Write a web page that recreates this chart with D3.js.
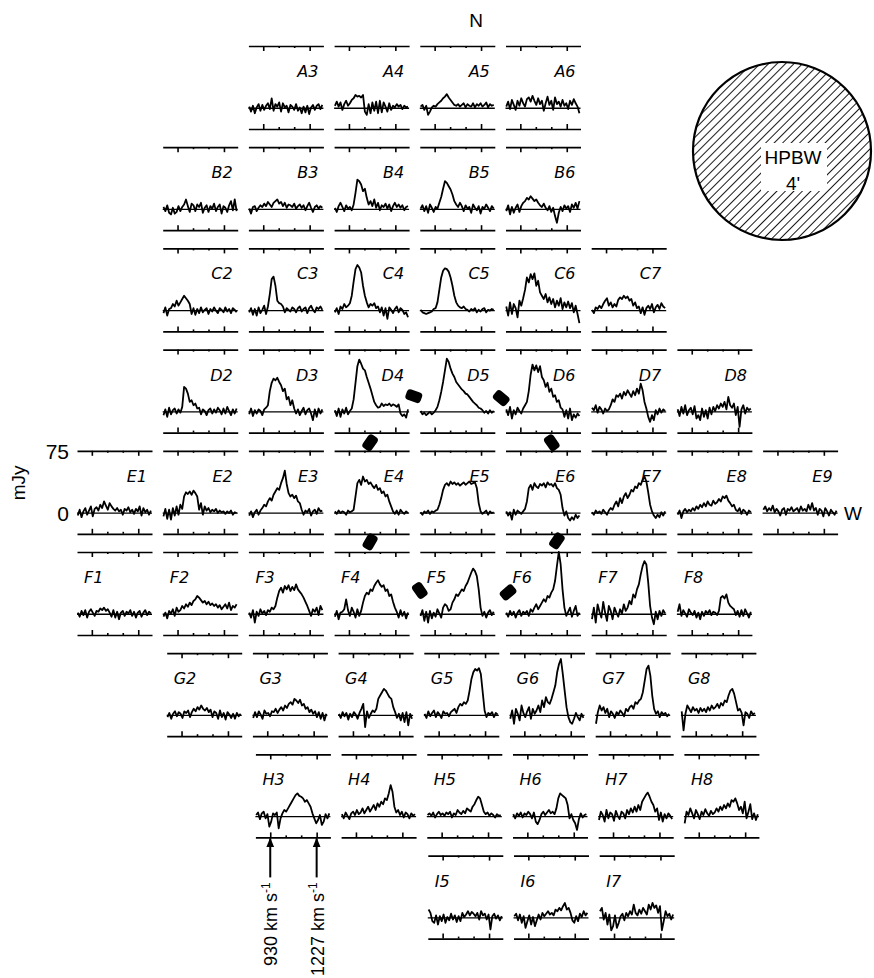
<!DOCTYPE html>
<html>
<head>
<meta charset="utf-8">
<script src="https://cdn.jsdelivr.net/npm/d3@7"></script>
<style>
  body { margin: 0; background: #fff; }
  svg { display: block; }
</style>
</head>
<body>
<div id="chart"></div>
<script>
// velocity channels (km/s) shared by every spectrum
var channels = [840,852,864,876,888,900,912,924,936,948,960,972,984,996,1008,1020,1032,1044,1056,1068,
                1080,1092,1104,1116,1128,1140,1152,1164,1176,1188,1200,1212,1224,1236,1248,1260,1272,1284,1296,1308];
var majorTicks = [930, 1227];
var minorTicks = [1029, 1128];
var topLevel = 75, bottomLevel = -25;

// flux density in mJy, one array per pointing
var A3 = [2,-4,3,-6,1,5,-3,4,-2,3, 6,-1,12,-3,5,2,7,-4,6,1, 3,-5,4,2,-2,5,-3,1,-6,2, -5,3,-7,1,4,-2,3,5,-1,4];
var A4 = [3,8,2,7,-2,5,9,3,6,10, 12,16,14,15,13,16,-4,-8,5,-6, 7,-3,8,-6,9,-5,7,2,-4,6, -2,3,1,5,2,4,-1,3,1,2];
var A5 = [2,4,-2,3,-8,-4,1,3,2,5, 7,9,12,14,17,13,10,7,4,3, 5,2,4,6,1,5,3,2,6,1, 5,3,6,2,4,7,1,5,3,4];
var A6 = [2,8,-1,10,4,-2,9,3,12,6, 2,11,13,8,15,9,4,12,5,9, -3,6,14,4,9,-2,13,5,8,2, 10,3,6,-1,9,4,11,6,2,-6];
var B2 = [3,-2,5,-4,-6,2,-5,-3,4,-2, 3,6,12,4,-3,7,5,-2,6,3, 8,-4,2,5,-3,4,1,7,-2,3, 6,-5,4,2,-3,5,10,-1,12,-2];
var B3 = [1,-5,3,4,-2,2,5,3,7,4, 9,6,3,8,10,12,7,9,4,8, 2,6,5,3,7,1,4,6,2,5, -1,4,8,2,-3,3,5,1,4,2];
var B4 = [2,-3,4,8,3,-2,5,1,3,-1, 6,20,36,34,30,22,25,14,6,10, 4,12,2,8,-1,5,3,7,1,6, -2,4,8,3,6,2,5,-1,3,4];
var B5 = [1,5,-2,4,-4,6,2,-3,3,1, 8,15,25,34,32,28,24,18,10,6, 3,8,4,-2,5,1,3,-4,6,2, -1,4,-5,3,1,6,2,-2,4,1];
var B6 = [-2,5,-6,3,-4,2,6,-3,4,8, 10,14,12,16,13,10,12,8,5,3, 7,2,-1,4,-3,2,-8,-16,-4,3, -2,5,1,4,-3,6,2,8,1,10];
var C2 = [-3,4,-6,2,3,8,5,12,6,10, 14,18,15,12,8,-4,3,-5,2,-3, 4,-2,1,3,-4,2,-1,4,0,-3, 3,1,-2,4,-1,2,-3,3,1,-2];
var C3 = [-2,3,-5,2,-6,4,-3,1,6,-4, 5,20,38,41,30,12,9,8,5,-2, 3,1,-1,4,2,-2,3,5,-1,2, 4,-3,3,6,1,-2,4,2,5,1];
var C4 = [-2,3,-4,5,2,8,4,6,9,18, 35,50,55,52,46,30,18,10,4,8, 6,9,3,5,-2,4,-6,3,-10,4, 1,-3,2,5,-2,3,1,-4,-2,-8];
var C5 = [1,-2,-3,-4,-3,-2,-1,2,3,10, 25,40,48,51,50,47,40,30,18,10, 6,4,3,5,2,1,-1,2,0,3, -2,1,-1,2,3,-2,1,0,2,1];
var C6 = [5,-6,10,-4,8,3,-8,12,6,15, 25,40,34,44,38,45,30,36,22,18, 14,20,10,16,8,14,4,12,6,15, 2,10,4,11,3,9,-2,6,-4,-15];
var C7 = [1,-3,4,2,6,3,8,12,15,6, 10,4,8,5,13,16,14,18,15,17, 12,14,6,10,3,5,-3,4,-5,3, 6,2,8,-2,4,7,2,9,5,3];
var D2 = [-4,3,-6,5,-3,2,4,-2,3,-1, 6,30,28,22,12,14,8,10,4,5, -3,3,1,-4,2,4,-2,3,-1,5, 2,-3,4,-2,6,1,-4,3,-2,4];
var D3 = [-3,4,-5,2,-2,3,1,-4,3,5, 8,25,35,40,38,41,36,32,25,28, 15,18,8,14,4,-2,3,-4,1,5, -3,2,4,-2,-10,3,-6,4,-2,3];
var D4 = [2,-5,4,-6,3,-2,5,-3,1,4, 15,35,55,63,58,52,50,42,35,28, 20,12,8,5,6,10,7,9,8,10, 7,9,8,6,9,-2,-5,-3,-7,3];
var D5 = [1,-3,-1,-4,-2,0,-3,-1,2,6, 14,24,36,50,64,60,52,46,42,36, 33,30,27,25,22,21,18,15,12,10, 8,5,4,2,-1,1,-2,2,-1,1];
var D6 = [3,-4,6,-8,2,-3,5,1,-2,4, 8,12,25,45,57,50,56,48,55,42, 38,30,35,24,28,18,20,12,14,5, 3,-6,2,-8,4,-10,-3,-7,-2,-5];
var D7 = [5,2,8,-1,6,3,-2,4,1,3, 8,15,12,20,18,22,16,24,20,26, 22,18,25,20,28,22,34,26,12,4, -6,-12,-4,-10,2,-3,4,-1,3,1];
var D8 = [3,-5,6,-2,8,-4,2,5,-3,7, -8,-4,-10,4,-6,2,-8,5,-3,6, 1,8,4,10,6,12,3,18,8,5, 10,-4,6,-18,3,8,-2,5,2,4];
var E1 = [-3,4,-5,2,6,-2,3,8,-4,5, 7,3,10,6,14,9,4,12,8,5, 3,6,2,4,-2,5,3,7,1,4, -1,5,2,8,-3,6,1,4,-2,3];
var E2 = [-4,5,-7,4,-8,6,-3,8,-2,10, 5,20,25,23,26,22,27,24,20,4, 12,-2,8,3,6,1,4,2,5,0, 3,1,2,-1,2,0,3,-2,1,0];
var E3 = [-3,2,-5,1,4,-2,3,6,10,8, 14,18,15,22,26,30,28,36,42,51, 35,24,20,22,18,21,14,12,4,-2, 3,1,5,-3,2,4,-1,6,2,3];
var E4 = [2,-1,3,0,2,1,-2,3,1,2, 4,20,36,40,34,44,38,40,35,37, 33,30,34,28,30,24,26,20,22,14, 8,2,-1,3,-2,4,1,-1,2,0];
var E5 = [1,-2,2,0,3,-1,2,1,3,4, 10,18,28,34,36,33,38,35,37,34, 36,33,35,37,34,36,38,35,36,37, 30,12,2,-1,1,3,-2,2,0,1];
var E6 = [2,-3,1,-8,4,-2,3,1,-1,2, 5,14,30,34,28,36,32,30,35,33, 36,31,37,34,35,32,36,30,28,22, 6,-3,2,-6,-9,-5,-8,-2,-6,-3];
var E7 = [1,-2,3,0,2,-1,4,1,-2,3, 6,4,10,14,8,18,12,20,24,18, 22,28,26,32,30,36,34,40,44,38, 25,10,2,-3,-6,-2,-5,1,-3,2];
var E8 = [-2,3,-6,2,5,1,4,2,6,3, 8,5,10,7,12,8,14,10,9,15, 11,13,17,14,20,18,21,15,12,8, 10,4,2,6,-1,4,2,-2,3,1];
var E9 = [4,8,2,6,3,9,1,5,2,-3, 4,6,-2,5,3,7,2,4,6,1, 8,3,5,2,10,4,12,3,6,-2, 5,3,-4,6,2,-3,4,1,-2,3];
var F1 = [2,-3,4,-1,5,-4,3,6,2,-2, 4,3,7,5,8,4,6,2,-3,5, -4,3,-6,2,4,-2,3,1,5,-2, 3,-4,2,4,-3,2,5,-1,3,1];
var F2 = [-3,2,-5,4,1,6,-2,8,3,5, 10,7,12,9,14,11,16,18,22,20, 17,14,16,12,15,11,13,10,12,8, 11,6,9,12,7,14,5,10,8,12];
var F3 = [2,-4,5,-10,3,-2,6,1,4,-1, 5,3,8,6,10,20,28,32,26,34, 30,35,28,33,29,36,30,27,24,20, 15,10,4,-2,6,3,8,-1,10,5];
var F4 = [-3,4,-6,2,3,6,18,5,-2,8, 3,-4,6,-2,4,14,22,26,24,30, 28,34,38,41,36,33,35,28,30,22, 24,15,8,3,-4,5,-2,3,-5,2];
var F5 = [-2,5,-8,3,-10,4,-5,2,-3,6, 1,-4,8,12,10,4,6,14,18,24, 22,26,30,28,34,38,44,50,55,52, 46,30,8,-2,3,-4,2,5,-1,3];
var F6 = [2,-3,4,-1,3,-4,2,5,-2,3, 1,4,-2,6,3,8,12,6,10,14, 18,15,22,20,26,30,40,58,75,60, 30,8,-2,3,8,-3,4,10,-2,2];
var F7 = [-6,8,-10,12,3,-4,15,2,-8,10, 4,-6,8,2,-3,6,1,12,4,8, 16,12,24,20,30,36,48,58,64,60, 38,10,-4,-12,3,-6,4,-2,5,1];
var F8 = [3,12,-2,5,1,-3,6,2,-1,4, -4,2,-6,3,-2,4,1,5,-1,3, 2,-1,4,20,22,19,24,14,10,8, 6,-1,4,-3,5,-2,6,1,-4,3];
var G2 = [-2,3,-4,2,5,-1,4,2,-3,5, 3,6,-2,4,8,5,10,7,12,8, 6,9,4,7,-2,5,3,-4,6,-2, 3,-5,4,1,-3,2,-4,3,-1,2];
var G3 = [-3,4,-2,5,1,-4,6,2,3,-1, 5,4,8,3,7,10,6,12,9,14, 16,13,20,18,15,19,12,14,8,10, 4,7,2,5,-2,4,-4,3,-6,2];
var G4 = [2,-3,4,-1,3,-5,2,-2,4,1, -4,3,8,14,-14,5,-3,2,6,4, 8,20,24,28,32,30,26,22,20,10, 4,-3,2,-6,3,-8,4,-12,2,-4];
var G5 = [2,-3,5,-1,3,6,-2,4,1,-3, 5,2,3,-1,4,6,8,3,10,14, 12,16,14,18,30,44,52,56,54,57, 50,28,6,-2,3,1,4,-2,3,1];
var G6 = [-4,6,-10,8,2,-6,12,3,-2,5, 10,-4,8,2,6,12,4,18,10,22, 16,14,20,28,36,52,62,68,50,30, 10,-2,-8,-10,-4,3,-2,-6,2,-3];
var G7 = [-10,4,12,6,10,3,8,-2,5,2, -3,4,1,6,3,-1,8,5,10,12, 8,16,14,18,20,28,42,56,60,48, 24,8,2,5,-2,4,1,3,-1,2];
var G8 = [5,-18,2,12,8,4,10,6,8,3, 9,5,8,4,10,6,12,8,10,14, 9,15,12,18,16,24,30,32,26,16, 6,8,3,-12,4,2,-3,5,1,3];
var H3 = [2,5,-3,4,6,-2,3,-12,-6,4, 2,5,-14,-2,4,8,6,10,14,18, 22,26,28,25,24,22,18,20,16,12, 4,-2,-8,-4,2,-10,-6,3,-2,4];
var H4 = [3,-2,5,1,-3,4,6,2,8,3, 5,10,4,8,12,6,10,14,8,16, 12,18,15,22,20,28,38,30,12,5, 8,2,6,-1,5,3,-2,4,1,3];
var H5 = [2,4,1,5,-1,3,6,2,4,1, 5,3,6,-1,4,2,8,5,3,7, 4,10,8,6,12,15,20,24,22,14, 6,3,5,1,4,2,-1,3,1,2];
var H6 = [3,-2,4,1,5,-1,4,2,6,3, -2,5,-6,-9,-4,3,6,2,5,8, 4,6,3,10,22,28,26,24,22,14, -2,3,-4,-8,-16,-3,4,-1,2,3];
var H7 = [-4,6,2,-6,8,-2,5,3,-5,7, 1,-3,6,4,-2,8,3,10,5,12, 6,14,8,18,22,26,29,24,18,14, 6,10,-4,5,-6,3,-2,4,1,-3];
var H8 = [-8,6,2,10,4,-2,8,3,-3,6, 2,9,4,1,7,3,5,10,6,12, 8,14,10,16,12,20,18,22,16,8, 12,4,18,-2,6,15,-3,4,-4,3];
var I5 = [10,6,-4,-6,3,-8,2,-4,4,-6, 1,-3,5,-2,3,-5,2,-4,6,1, 4,8,3,7,5,2,6,-2,8,3, 5,-2,4,-14,2,5,-1,3,-3,2];
var I6 = [2,5,-3,4,-6,2,-12,-4,3,-8, 1,-10,-3,4,-2,6,2,5,8,4, 6,3,10,8,12,9,14,18,10,12, 6,-3,-6,2,-4,5,1,8,3,6];
var I7 = [8,12,-2,6,-8,4,-15,-10,3,-12, -6,2,5,-3,6,2,8,4,16,6, 3,10,5,12,8,4,16,10,18,12, 15,6,14,-15,-4,8,2,5,-2,4];

var spectra = [
  ["A3", A3], ["A4", A4], ["A5", A5], ["A6", A6],
  ["B2", B2], ["B3", B3], ["B4", B4], ["B5", B5], ["B6", B6],
  ["C2", C2], ["C3", C3], ["C4", C4], ["C5", C5], ["C6", C6], ["C7", C7],
  ["D2", D2], ["D3", D3], ["D4", D4], ["D5", D5], ["D6", D6], ["D7", D7], ["D8", D8],
  ["E1", E1], ["E2", E2], ["E3", E3], ["E4", E4], ["E5", E5], ["E6", E6], ["E7", E7], ["E8", E8], ["E9", E9],
  ["F1", F1], ["F2", F2], ["F3", F3], ["F4", F4], ["F5", F5], ["F6", F6], ["F7", F7], ["F8", F8],
  ["G2", G2], ["G3", G3], ["G4", G4], ["G5", G5], ["G6", G6], ["G7", G7], ["G8", G8],
  ["H3", H3], ["H4", H4], ["H5", H5], ["H6", H6], ["H7", H7], ["H8", H8],
  ["I5", I5], ["I6", I6], ["I7", I7]
];

// black markers, given in grid units (column, row) with their tilt
var markers = [
  { col: 4.93, row: 3.46, angle: 20 },
  { col: 5.95, row: 3.48, angle: 40 },
  { col: 4.42, row: 3.92, angle: -55 },
  { col: 6.54, row: 3.92, angle: 55 },
  { col: 4.42, row: 4.90, angle: -60 },
  { col: 6.60, row: 4.89, angle: -55 },
  { col: 5.00, row: 5.38, angle: 55 },
  { col: 6.03, row: 5.40, angle: -40 }
];

var rowLetters = "ABCDEFGHI";
var width = 874, height = 978;
var panelW = 75, panelH = 83;
var rowShift = [0, 0, 0, 0, 0, 0, 4, 7, 8];

var colX = d3.scaleLinear().domain([1, 9]).range([77, 77 + 8 * 85.7]);
var rowY = d3.scaleLinear().domain([0, 8]).range([46, 46 + 8 * 101.2]);

var x = d3.scaleLinear().domain([835, 1315]).range([0, panelW]);
var y = d3.scaleLinear().domain([bottomLevel, topLevel]).range([panelH, 0]);

var svg = d3.select('#chart')
  .append('svg')
  .attr('width', width)
  .attr('height', height)
  .style('font-family', '"Liberation Sans", Arial, sans-serif');

var line = d3.line()
  .x(function(d, i) { return x(channels[i]); })
  .y(function(d) { return y(d); });

var panel = svg.selectAll('g.panel')
  .data(spectra)
  .enter()
  .append('g')
  .attr('class', 'panel')
  .attr('transform', function(d) {
    var r = rowLetters.indexOf(d[0][0]);
    var c = +d[0].slice(1);
    return 'translate(' + (colX(c) + rowShift[r]) + ',' + rowY(r) + ')';
  });

// 75 mJy line with ticks hanging down, lower line with ticks pointing up
var topAxis = d3.axisBottom(x).tickValues(majorTicks).tickSize(5).tickSizeOuter(0).tickFormat('');
var topMinor = d3.axisBottom(x).tickValues(minorTicks).tickSize(2).tickSizeOuter(0).tickFormat('');
var botAxis = d3.axisTop(x).tickValues(majorTicks).tickSize(5).tickSizeOuter(0).tickFormat('');
var botMinor = d3.axisTop(x).tickValues(minorTicks).tickSize(2).tickSizeOuter(0).tickFormat('');

function styleAxis(g) {
  g.selectAll('path').attr('stroke', '#000').attr('stroke-width', 1.7);
  g.selectAll('line').attr('stroke', '#000').attr('stroke-width', 1.6);
}

panel.append('g').attr('transform', 'translate(0,' + y(topLevel) + ')').call(topAxis).call(styleAxis);
panel.append('g').attr('transform', 'translate(0,' + y(topLevel) + ')').call(topMinor).call(styleAxis)
  .select('path').remove();
panel.append('g').attr('transform', 'translate(0,' + y(bottomLevel) + ')').call(botAxis).call(styleAxis);
panel.append('g').attr('transform', 'translate(0,' + y(bottomLevel) + ')').call(botMinor).call(styleAxis)
  .select('path').remove();

// zero line
panel.append('line')
  .attr('x1', 0).attr('x2', panelW)
  .attr('y1', y(0)).attr('y2', y(0))
  .attr('stroke', '#000').attr('stroke-width', 1.3);

panel.append('path')
  .attr('d', function(d) { return line(d[1]); })
  .attr('fill', 'none')
  .attr('stroke', '#000')
  .attr('stroke-width', 1.8)
  .attr('stroke-linejoin', 'round');

panel.append('text')
  .attr('x', function(d) { return rowLetters.indexOf(d[0][0]) < 5 ? 70 : 7; })
  .attr('y', 31)
  .attr('text-anchor', function(d) { return rowLetters.indexOf(d[0][0]) < 5 ? 'end' : 'start'; })
  .style('font-family', '"DejaVu Sans", sans-serif')
  .style('font-style', 'italic')
  .style('font-size', '16px')
  .text(function(d) { return d[0]; });

// markers between pointings
svg.selectAll('rect.marker')
  .data(markers)
  .enter()
  .append('rect')
  .attr('class', 'marker')
  .attr('x', -8).attr('y', -5.5)
  .attr('width', 16).attr('height', 11)
  .attr('rx', 3.5)
  .attr('fill', '#000')
  .attr('transform', function(d) {
    return 'translate(' + colX(d.col) + ',' + rowY(d.row) + ') rotate(' + d.angle + ')';
  });

// axis annotations on E1
var e1x = colX(1), e1y = rowY(4);
svg.append('text').attr('x', e1x - 8).attr('y', e1y + y(topLevel) + 8)
  .attr('text-anchor', 'end').style('font-size', '21px').text(topLevel);
svg.append('text').attr('x', e1x - 8).attr('y', e1y + y(0) + 8)
  .attr('text-anchor', 'end').style('font-size', '21px').text('0');
svg.append('text')
  .attr('transform', 'translate(25,' + (e1y + 32) + ') rotate(-90)')
  .attr('text-anchor', 'middle').style('font-size', '19px').text('mJy');

svg.append('text').attr('x', 476).attr('y', 27).attr('text-anchor', 'middle')
  .style('font-size', '19px').text('N');
svg.append('text').attr('x', 853).attr('y', 520).attr('text-anchor', 'middle')
  .style('font-size', '19px').text('W');

// velocity arrows under H3
var h3x = colX(3) + rowShift[7], h3y = rowY(7) + y(bottomLevel);
var defs = svg.append('defs');
defs.append('marker')
  .attr('id', 'head').attr('viewBox', '0 0 10 10')
  .attr('refX', 9).attr('refY', 5)
  .attr('markerWidth', 5).attr('markerHeight', 5)
  .attr('markerUnits', 'strokeWidth')
  .attr('orient', 'auto')
  .append('path').attr('d', 'M0,1 L10,5 L0,9 Z').attr('fill', '#000');

majorTicks.forEach(function(v) {
  var ax = h3x + x(v);
  svg.append('line')
    .attr('x1', ax).attr('x2', ax)
    .attr('y1', h3y + 40).attr('y2', h3y + 1)
    .attr('stroke', '#000').attr('stroke-width', 2)
    .attr('marker-end', 'url(#head)');
  var t = svg.append('text')
    .attr('transform', 'translate(' + (ax + 7) + ',' + (h3y + 45) + ') rotate(-90)')
    .attr('text-anchor', 'end')
    .style('font-size', '18px');
  t.append('tspan').text(v + ' km s');
  t.append('tspan').attr('dy', -7).style('font-size', '12px').text('-1');
});

// beam circle
var cx = 782, cy = 151, cr = 89;
defs.append('pattern')
  .attr('id', 'hatch')
  .attr('patternUnits', 'userSpaceOnUse')
  .attr('width', 6).attr('height', 6)
  .attr('patternTransform', 'rotate(45)')
  .append('line')
  .attr('x1', 0).attr('y1', 0).attr('x2', 0).attr('y2', 6)
  .attr('stroke', '#000').attr('stroke-width', 1.8);

svg.append('circle')
  .attr('cx', cx).attr('cy', cy).attr('r', cr)
  .attr('fill', 'url(#hatch)')
  .attr('stroke', '#000').attr('stroke-width', 2.2);
svg.append('rect')
  .attr('x', cx - 21).attr('y', cy - 8)
  .attr('width', 66).attr('height', 48)
  .attr('fill', '#fff');
svg.append('text').attr('x', cx + 11).attr('y', cy + 13)
  .attr('text-anchor', 'middle').style('font-size', '19px').text('HPBW');
svg.append('text').attr('x', cx + 11).attr('y', cy + 39)
  .attr('text-anchor', 'middle').style('font-size', '19px').text("4'");
</script>
</body>
</html>
